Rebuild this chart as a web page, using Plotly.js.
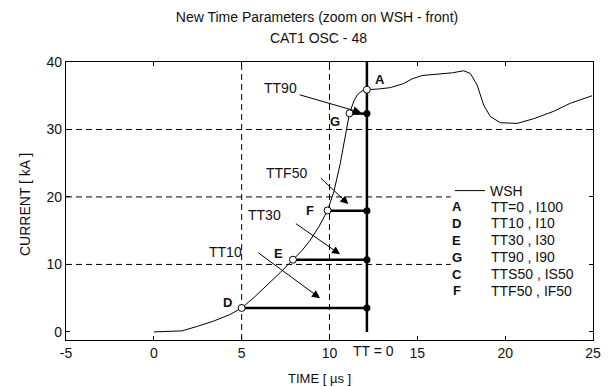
<!DOCTYPE html>
<html>
<head>
<meta charset="utf-8">
<script src="https://cdn.plot.ly/plotly-3.0.1.min.js"></script>
<style>html,body{margin:0;padding:0;background:#fff}#chart{width:608px;height:387px}</style>
</head>
<body>
<div id="chart"></div>
<script>
// ---- data ----
const wshX = [0, 1.6, 2.45, 3.4, 4.35, 5.0, 5.7, 6.45, 7.2, 7.92, 8.45, 8.9, 9.4, 9.89, 10.25, 10.6, 10.9, 11.14, 11.4, 11.6, 11.85, 12.13, 12.8, 13.46, 14.22, 14.7, 15.27, 16.31, 17.0, 17.64, 18.02, 18.4, 18.78, 19.16, 19.73, 20.68, 21.63, 22.77, 23.72, 24.95];
const wshY = [0.0, 0.15, 0.8, 1.6, 2.6, 3.55, 5.1, 6.9, 8.8, 10.7, 12.1, 13.6, 15.6, 18.0, 20.8, 24.8, 28.8, 32.4, 34.3, 35.2, 35.7, 35.9, 36.0, 36.2, 36.8, 37.5, 38.0, 38.3, 38.4, 38.7, 38.3, 36.6, 33.6, 31.9, 31.0, 30.9, 31.6, 32.7, 33.9, 35.0];

const tt0 = 12.13;               // TT = 0 instant
const tt0Span = [0, 40];         // extent of the TT = 0 marker line

const pointLabels = ['A', 'G', 'F', 'E', 'D'];
const pointX = [12.13, 11.14, 9.89, 7.92, 5.0];
const pointY = [35.9, 32.4, 18.0, 10.7, 3.55];

const levelLabels = ['G', 'F', 'E', 'D'];
const levelX = [11.14, 9.89, 7.92, 5.0];
const levelY = [32.35, 17.95, 10.7, 3.55];

const arrowNames = ['TT90', 'TTF50', 'TT30', 'TT10'];
const arrowLabelX = [7.22, 7.57, 6.31, 4.06];
const arrowLabelY = [36.1, 23.5, 17.3, 11.9];
const arrowTailX = [8.22, 9.42, 8.0, 5.86];
const arrowTailY = [35.2, 23.0, 16.2, 11.9];
const arrowHeadX = [11.8, 11.07, 10.6, 9.46];
const arrowHeadY = [32.5, 18.95, 11.5, 5.0];

const gridX = [5, 10];
const gridY = [10, 20, 30];

const xTicks = [-5, 0, 5, 10, 15, 20, 25];
const yTicks = [0, 10, 20, 30, 40];

const legendLetters = ['A', 'D', 'E', 'G', 'C', 'F'];
const legendDescs = ['TT=0 , I100', 'TT10 , I10', 'TT30 , I30', 'TT90 , I90', 'TTS50 , IS50', 'TTF50 , IF50'];

// ---- build ----
const FONT = 'Arial, "Liberation Sans", sans-serif';
const TXT = '#111';

const traces = [];
traces.push({x: wshX, y: wshY, mode: 'lines', name: 'WSH', line: {color: '#000', width: 1}, showlegend: true, hoverinfo: 'skip'});
traces.push({x: [tt0, tt0], y: tt0Span, mode: 'lines', line: {color: '#000', width: 2.5}, showlegend: false, hoverinfo: 'skip'});
const segX = [], segY = [];
levelX.forEach((x, i) => { segX.push(x, tt0, null); segY.push(levelY[i], levelY[i], null); });
traces.push({x: segX, y: segY, mode: 'lines', line: {color: '#000', width: 2.5}, showlegend: false, hoverinfo: 'skip'});
traces.push({x: levelY.map(() => tt0), y: levelY, mode: 'markers', marker: {color: '#000', size: 7}, showlegend: false, hoverinfo: 'skip'});
traces.push({x: pointX, y: pointY, mode: 'markers', marker: {color: '#fff', size: 7, line: {color: '#000', width: 1}}, showlegend: false, hoverinfo: 'skip'});

const shapes = [];
gridX.forEach(x => shapes.push({type: 'line', xref: 'x', yref: 'paper', x0: x, x1: x, y0: 0, y1: 1, line: {color: '#000', width: 1, dash: '6px,4px'}, layer: 'below'}));
gridY.forEach(y => shapes.push({type: 'line', xref: 'x', yref: 'y', x0: -5, x1: y === 30 ? 25 : 16.9, y0: y, y1: y, line: {color: '#000', width: 1, dash: '6px,4px'}, layer: 'below'}));

const annotations = [];
// point letters
const letterShift = {A: [13, 10], G: [-15, -8], F: [-18, 0], E: [-14, 6], D: [-14, 5]};
pointLabels.forEach((lab, i) => annotations.push({x: pointX[i], y: pointY[i], xref: 'x', yref: 'y', text: '<b>' + lab + '</b>', showarrow: false, xshift: letterShift[lab][0], yshift: letterShift[lab][1], font: {family: FONT, size: 13, color: TXT}}));
// arrows + labels
arrowNames.forEach((n, i) => {
  annotations.push({x: arrowLabelX[i], y: arrowLabelY[i], xref: 'x', yref: 'y', text: n, showarrow: false, font: {family: FONT, size: 14, color: TXT}});
  annotations.push({x: arrowHeadX[i], y: arrowHeadY[i], ax: arrowTailX[i], ay: arrowTailY[i], xref: 'x', yref: 'y', axref: 'x', ayref: 'y', text: '', showarrow: true, arrowhead: 2, arrowsize: 1.6, arrowwidth: 1, arrowcolor: '#000', standoff: 0, startstandoff: 0});
});
// TT = 0 label under axis
annotations.push({x: (373.3 - 66) / 527, y: (340 - 351) / 278, xref: 'paper', yref: 'paper', text: 'TT = 0', showarrow: false, yanchor: 'middle', font: {family: FONT, size: 14, color: TXT}});
// subtitle line
annotations.push({x: (318 - 66) / 527, y: (340 - 38.3) / 278, xref: 'paper', yref: 'paper', text: 'CAT1 OSC - 48', showarrow: false, yanchor: 'middle', font: {family: FONT, size: 14, color: TXT}});
// axis titles
annotations.push({x: (319 - 66) / 527, y: (340 - 378) / 278, xref: 'paper', yref: 'paper', text: 'TIME [ µs ]', showarrow: false, yanchor: 'middle', font: {family: FONT, size: 13, color: TXT}});
annotations.push({x: (25 - 66) / 527, y: (340 - 205) / 278, xref: 'paper', yref: 'paper', text: 'CURRENT [ kA ]', textangle: -90, showarrow: false, xanchor: 'center', yanchor: 'middle', font: {family: FONT, size: 14, color: TXT}});
// legend table
const rowY = [206.7, 223.3, 240, 257.3, 274, 290.7];
legendLetters.forEach((l, i) => {
  annotations.push({x: (456.7 - 66) / 527, y: (340 - rowY[i]) / 278, xref: 'paper', yref: 'paper', text: '<b>' + l + '</b>', showarrow: false, xanchor: 'center', yanchor: 'middle', font: {family: FONT, size: 13, color: TXT}});
  annotations.push({x: (489 - 66) / 527, y: (340 - rowY[i]) / 278, xref: 'paper', yref: 'paper', text: legendDescs[i], showarrow: false, xanchor: 'left', yanchor: 'middle', font: {family: FONT, size: 14, color: TXT}});
});

const layout = {
  width: 608, height: 387,
  margin: {l: 66, r: 15, t: 62, b: 47},
  paper_bgcolor: '#fff', plot_bgcolor: '#fff',
  font: {family: FONT, size: 14, color: TXT},
  title: {text: 'New Time Parameters (zoom on WSH - front)', xref: 'container', yref: 'container', x: 317 / 608, y: 1 - 16.7 / 387, xanchor: 'center', yanchor: 'middle', font: {family: FONT, size: 14, color: TXT}},
  xaxis: {range: [-5, 25], tickvals: xTicks, ticktext: xTicks.map(String), showgrid: false, zeroline: false, showline: true, mirror: 'ticks', linecolor: '#000', linewidth: 1.2, ticks: 'inside', ticklen: 4, tickcolor: '#000', tickfont: {family: FONT, size: 14, color: TXT}},
  yaxis: {range: [-1.2, 40], tickvals: yTicks, ticktext: yTicks.map(String), showgrid: false, zeroline: false, showline: true, mirror: 'ticks', linecolor: '#000', linewidth: 1.2, ticks: 'inside', ticklen: 4, tickcolor: '#000', tickfont: {family: FONT, size: 14, color: TXT}},
  showlegend: true,
  legend: {x: (450 - 66) / 527, xanchor: 'left', y: (340 - 175) / 278, yanchor: 'top', bgcolor: 'rgba(0,0,0,0)', borderwidth: 0, font: {family: FONT, size: 14, color: TXT}, itemwidth: 30},
  shapes: shapes,
  annotations: annotations
};

Plotly.newPlot('chart', traces, layout, {displayModeBar: false, staticPlot: true});
</script>
</body>
</html>
